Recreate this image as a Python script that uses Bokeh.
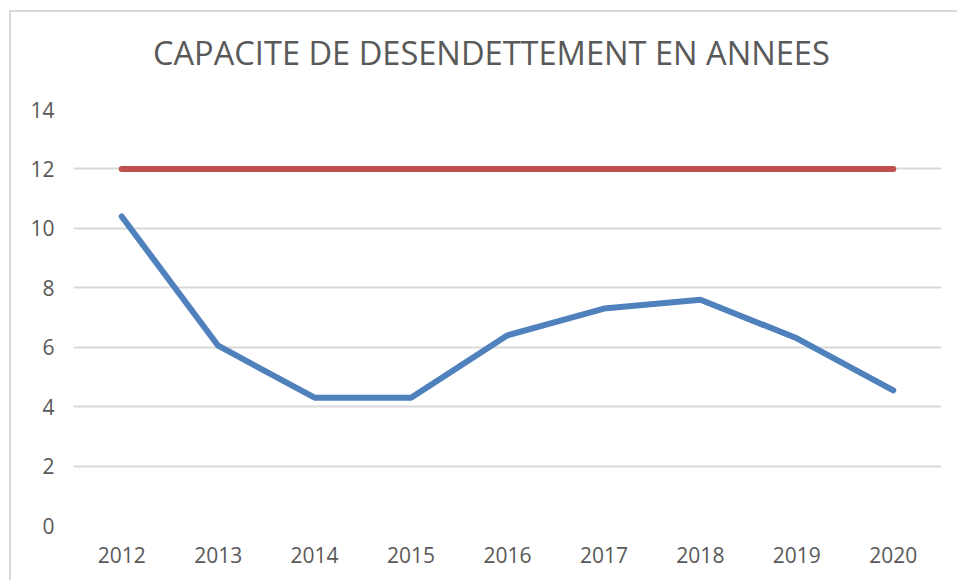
from bokeh.plotting import figure
from bokeh.models import Range1d, FactorRange, Div
from bokeh.layouts import column
from bokeh.embed import file_html
from bokeh.resources import INLINE

years = ["2012", "2013", "2014", "2015", "2016", "2017", "2018", "2019", "2020"]
capacite = [10.4, 6.05, 4.3, 4.3, 6.4, 7.3, 7.6, 6.3, 4.55]
seuil = [12, 12, 12, 12, 12, 12, 12, 12, 12]
y_ticks = [0, 2, 4, 6, 8, 10, 12, 14]
title_text = "CAPACITE DE DESENDETTEMENT EN ANNEES"

FONT = "Open Sans"
GREY = "#595959"

title_div = Div(
    text=('<div style="margin:18px 0 0 142px; font-family:\'Open Sans\'; font-size:32.6px; '
          'line-height:normal; color:%s; white-space:nowrap;">%s</div>' % (GREY, title_text)),
    width=946, height=82, margin=0)

p = figure(width=946, height=486, output_backend="svg", toolbar_location=None,
           x_range=FactorRange(*years, range_padding=0), y_range=Range1d(0, 14),
           min_border_left=62, min_border_right=16, min_border_top=15, min_border_bottom=55,
           margin=0)

p.outline_line_color = None
p.background_fill_color = "white"
p.border_fill_color = "white"

p.line(years, seuil, line_color="#c0504d", line_width=6, line_cap="round")
p.line(years, capacite, line_color="#4f81bd", line_width=6, line_cap="round", line_join="round")

p.xgrid.grid_line_color = None
p.ygrid.grid_line_color = "#d9d9d9"
p.ygrid.grid_line_width = 2
p.yaxis.ticker = y_ticks

for ax in (p.xaxis[0], p.yaxis[0]):
    ax.axis_line_color = None
    ax.major_tick_line_color = None
    ax.minor_tick_line_color = None
    ax.major_label_text_font = FONT
    ax.major_label_text_font_size = "21px"
    ax.major_label_text_color = GREY
p.yaxis.major_label_standoff = 13
p.xaxis.major_label_standoff = 15

layout = column(title_div, p, spacing=0, margin=(10, 0, 0, 9),
                styles={"border-top": "2px solid #d9d9d9", "border-left": "2px solid #d9d9d9",
                        "background-color": "white"})

open("out.html", "w").write(file_html(layout, INLINE))
